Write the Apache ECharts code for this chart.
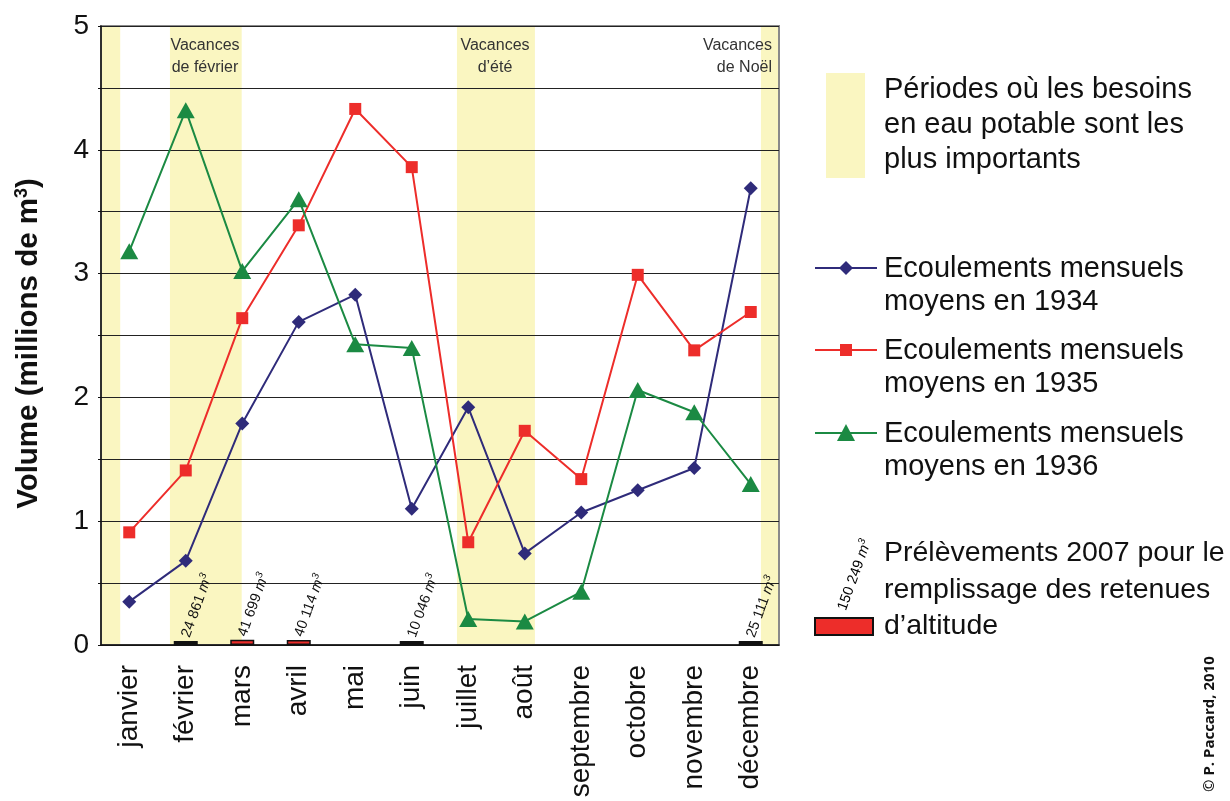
<!DOCTYPE html>
<html>
<head>
<meta charset="utf-8">
<script src="https://cdn.jsdelivr.net/npm/echarts@6/dist/echarts.min.js"></script>
<style>
    html, body { margin: 0; padding: 0; background: #fff; }
    #chart { width: 1230px; height: 801px; }
</style>
</head>
<body>
<div id="chart"></div>
<script>
const months = ['janvier', 'février', 'mars', 'avril', 'mai', 'juin', 'juillet', 'août', 'septembre', 'octobre', 'novembre', 'décembre'];
// écoulements mensuels moyens (millions de m3)
const flow1934 = [0.35, 0.68, 1.79, 2.61, 2.83, 1.10, 1.92, 0.74, 1.07, 1.25, 1.43, 3.69];
const flow1935 = [0.91, 1.41, 2.64, 3.39, 4.33, 3.86, 0.83, 1.73, 1.34, 2.99, 2.38, 2.69];
const flow1936 = [3.18, 4.32, 3.02, 3.60, 2.43, 2.40, 0.21, 0.19, 0.43, 2.06, 1.88, 1.30];
// prélèvements 2007 (m3)
const withdrawals2007 = [null, 24861, 41699, 40114, null, 10046, null, null, null, null, null, 25111];
const redWithdrawalMonths = ['mars', 'avril'];
const withdrawalTotal = 150249;
// périodes de vacances, en mois depuis début janvier
const holidayBands = [[0, 0.34], [1.22, 2.49], [6.30, 7.68], [11.68, 12]];

const YELLOW = '#faf6c1';
const NAVY = '#2f2b7a';
const RED = '#ed2d2a';
const GREEN = '#1b8a43';
const FONT = '"Liberation Sans", Arial, sans-serif';

const fmt = n => String(n).replace(/\B(?=(\d{3})+(?!\d))/g, ' ');

const smallRich = {
    n: { fontSize: 14.5, fontFamily: FONT, color: '#111' },
    m: { fontSize: 14.5, fontFamily: FONT, fontStyle: 'italic', color: '#111' },
    s: { fontSize: 10, fontFamily: FONT, fontStyle: 'italic', color: '#111', padding: [0, 0, 9, 0] }
};

const chart = echarts.init(document.getElementById('chart'));

const lineSeries = (name, data, color, symbol, size) => ({
    name: name,
    type: 'line',
    data: data,
    symbol: symbol,
    symbolSize: size,
    z: 5,
    lineStyle: { color: color, width: 2 },
    itemStyle: { color: color }
});

const option = {
    animation: false,
    grid: {
        left: 101, right: 451, top: 26, bottom: 156,
        show: true, borderColor: '#8a8a8a', borderWidth: 2
    },
    xAxis: [
        {
            type: 'category',
            data: months,
            boundaryGap: true,
            axisLine: { lineStyle: { color: '#111', width: 1.5 } },
            axisTick: { inside: true, length: 8, lineStyle: { color: '#111' } },
            axisLabel: { rotate: 90, fontSize: 28, fontFamily: FONT, color: '#111', margin: 20 }
        },
        { type: 'value', min: 0, max: 12, show: false }
    ],
    yAxis: {
        type: 'value',
        min: 0, max: 5, interval: 0.5,
        name: '{a|Volume (millions de m}{s|3}{a|)}',
        nameLocation: 'middle',
        nameGap: 56,
        nameTextStyle: {
            padding: [0, 16, 0, 0],
            rich: {
                a: { fontSize: 29.5, fontWeight: 'bold', fontFamily: FONT, color: '#111' },
                s: { fontSize: 18, fontWeight: 'bold', fontFamily: FONT, color: '#111', padding: [0, 0, 14, 0] }
            }
        },
        axisLine: { show: true, lineStyle: { color: '#111', width: 1.5 } },
        axisTick: { show: true, length: 3, lineStyle: { color: '#111' } },
        axisLabel: {
            fontSize: 28, fontFamily: FONT, color: '#111', margin: 12,
            formatter: v => (v % 1 === 0 ? String(v) : '')
        },
        splitLine: { lineStyle: { color: '#222', width: 1 } }
    },
    series: [
        {
            type: 'custom',
            xAxisIndex: 1,
            yAxisIndex: 0,
            silent: true,
            z: -1,
            data: holidayBands,
            encode: { x: [0, 1] },
            renderItem: (params, api) => {
                const p0 = api.coord([api.value(0), 5]);
                const p1 = api.coord([api.value(1), 0]);
                return {
                    type: 'rect',
                    shape: { x: p0[0], y: p0[1], width: p1[0] - p0[0], height: p1[1] - p0[1] },
                    style: { fill: YELLOW }
                };
            }
        },
        {
            name: 'Prélèvements 2007',
            type: 'bar',
            barWidth: 24,
            barMinHeight: 4,
            z: 3,
            data: withdrawals2007.map((v, i) => v == null ? null : {
                value: v / 1e6,
                itemStyle: redWithdrawalMonths.includes(months[i])
                    ? { color: RED, borderColor: '#111', borderWidth: 1.5 }
                    : { color: '#111' }
            }),
            label: {
                show: true,
                position: 'top',
                rotate: 70,
                align: 'left',
                verticalAlign: 'middle',
                distance: 4,
                formatter: p => '{n|' + fmt(Math.round(p.value * 1e6)) + ' }{m|m}{s|3}',
                rich: smallRich
            }
        },
        lineSeries('1934', flow1934, NAVY, 'diamond', [14, 14]),
        lineSeries('1935', flow1935, RED, 'rect', 12),
        lineSeries('1936', flow1936, GREEN, 'triangle', [18, 16])
    ],
    graphic: [
        // légendes des vacances
        { type: 'text', x: 205, y: 35, style: { text: 'Vacances\nde février', font: '16px ' + FONT, fill: '#333', align: 'center', lineHeight: 22 } },
        { type: 'text', x: 495, y: 35, style: { text: 'Vacances\nd’été', font: '16px ' + FONT, fill: '#333', align: 'center', lineHeight: 22 } },
        { type: 'text', x: 772, y: 35, style: { text: 'Vacances\nde Noël', font: '16px ' + FONT, fill: '#333', align: 'right', lineHeight: 22 } },

        // légende : périodes
        { type: 'rect', shape: { x: 826, y: 73, width: 39, height: 105 }, style: { fill: YELLOW } },
        { type: 'text', x: 884, y: 72, style: { text: 'Périodes où les besoins\nen eau potable sont les\nplus importants', font: '29px ' + FONT, fill: '#111', lineHeight: 35 } },

        // légende : 1934
        { type: 'line', shape: { x1: 815, y1: 268, x2: 877, y2: 268 }, style: { stroke: NAVY, lineWidth: 2 } },
        { type: 'polygon', shape: { points: [[846, 261], [853, 268], [846, 275], [839, 268]] }, style: { fill: NAVY } },
        { type: 'text', x: 884, y: 252, style: { text: 'Ecoulements mensuels\nmoyens en 1934', font: '29px ' + FONT, fill: '#111', lineHeight: 33 } },

        // légende : 1935
        { type: 'line', shape: { x1: 815, y1: 350, x2: 877, y2: 350 }, style: { stroke: RED, lineWidth: 2 } },
        { type: 'rect', shape: { x: 840, y: 344, width: 12, height: 12 }, style: { fill: RED } },
        { type: 'text', x: 884, y: 334, style: { text: 'Ecoulements mensuels\nmoyens en 1935', font: '29px ' + FONT, fill: '#111', lineHeight: 33 } },

        // légende : 1936
        { type: 'line', shape: { x1: 815, y1: 433, x2: 877, y2: 433 }, style: { stroke: GREEN, lineWidth: 2 } },
        { type: 'polygon', shape: { points: [[846, 424], [855, 441], [837, 441]] }, style: { fill: GREEN } },
        { type: 'text', x: 884, y: 417, style: { text: 'Ecoulements mensuels\nmoyens en 1936', font: '29px ' + FONT, fill: '#111', lineHeight: 33 } },

        // légende : prélèvements
        { type: 'rect', shape: { x: 815, y: 618, width: 58, height: 17 }, style: { fill: RED, stroke: '#111', lineWidth: 2 } },
        {
            type: 'text', x: 842, y: 610, rotation: 70 * Math.PI / 180,
            style: { text: '{n|' + fmt(withdrawalTotal) + ' }{m|m}{s|3}', rich: smallRich, align: 'left', verticalAlign: 'middle' }
        },
        { type: 'text', x: 884, y: 535, style: { text: 'Prélèvements 2007 pour le\nremplissage des retenues\nd’altitude', font: '28.5px ' + FONT, fill: '#111', lineHeight: 36.5 } },

        // copyright
        {
            type: 'text', x: 1210, y: 792, rotation: Math.PI / 2,
            style: { text: '© P. Paccard, 2010', font: 'bold 15px "Open Sans", sans-serif', fill: '#111', align: 'left', verticalAlign: 'middle' }
        }
    ]
};

chart.setOption(option);
</script>
</body>
</html>
